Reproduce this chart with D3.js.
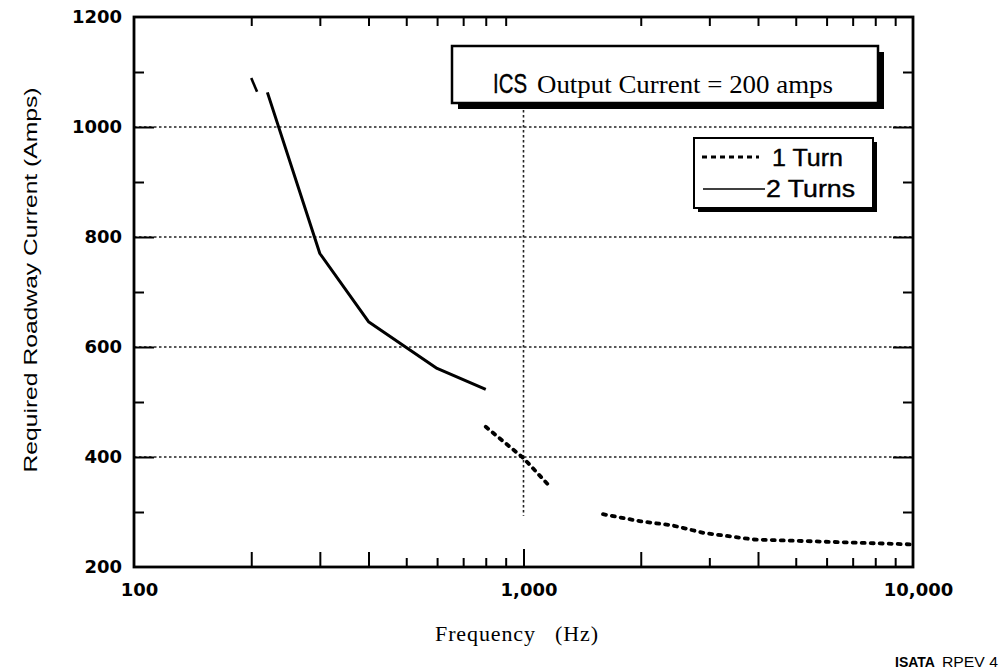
<!DOCTYPE html>
<html>
<head>
<meta charset="utf-8">
<script src="https://cdn.jsdelivr.net/npm/d3@7"></script>
<style>
  body { margin: 0; background: #fff; }
  svg { display: block; }
</style>
</head>
<body>
<div id="chart"></div>
<script>
// values
var turns2Freq = [220, 300, 400, 600, 800];
var turns2Amps = [1063, 770, 646, 561, 523];
var turns2StubFreq = [200, 207];
var turns2StubAmps = [1089, 1064];

var turn1FreqA = [800, 1000, 1170];
var turn1AmpsA = [455, 398, 346];
var turn1FreqB = [1600, 2000, 2400, 2900, 3900, 10000];
var turn1AmpsB = [296, 283, 276, 262, 250, 241];

var yLabels = [200, 400, 600, 800, 1000, 1200];
var yMajor = [400, 600, 800, 1000];
var yMinor = [300, 500, 700, 900, 1100];
var xLabels = [100, 1000, 10000];
var xLong = [200, 300, 400, 2000, 4000];
var xShort = [500, 600, 700, 800, 900, 3000, 5000, 6000, 7000, 8000, 9000];
var xTop = [200, 300, 400, 500, 600, 700, 800, 900, 2000, 3000, 4000, 5000, 6000, 7000, 8000, 9000];
var gridAmps = [400, 600, 800, 1000];

function init(){

    var w = 1001;
    var h = 672;

    var svg = d3.select("#chart")
        .append("svg")
        .attr("width", w)
        .attr("height", h);

    var x = d3.scaleLog().domain([100, 10000]).range([134, 913]);
    var y = d3.scaleLinear().domain([200, 1200]).range([567, 17]);

    function pairs(fs, as){
        return fs.map(function(f, i){ return [f, as[i]]; });
    }

    var line = d3.line()
        .x(function(d){ return x(d[0]); })
        .y(function(d){ return y(d[1]); });

    // grid
    svg.selectAll("line.hgrid")
        .data(gridAmps)
        .enter()
        .append("line")
        .attr("class", "hgrid")
        .attr("x1", x(100))
        .attr("x2", x(10000))
        .attr("y1", function(d){ return y(d); })
        .attr("y2", function(d){ return y(d); })
        .attr("stroke", "#222")
        .attr("stroke-width", 1.5)
        .attr("stroke-dasharray", "2.5,2.5");

    svg.append("line")
        .attr("x1", x(1000))
        .attr("x2", x(1000))
        .attr("y1", y(1140))
        .attr("y2", y(293))
        .attr("stroke", "#222")
        .attr("stroke-width", 1.6)
        .attr("stroke-dasharray", "2.5,2.5");

    // ticks
    function tickAxis(axis, vals, size, tx, ty){
        var g = svg.append("g")
            .attr("transform", "translate(" + tx + "," + ty + ")")
            .call(axis.tickValues(vals).tickSize(size).tickSizeOuter(0).tickFormat(""));
        g.select(".domain").remove();
        g.selectAll("line").attr("stroke", "#000").attr("stroke-width", 2);
        return g;
    }

    tickAxis(d3.axisBottom(x), xLong, -15, 0, 567);
    tickAxis(d3.axisBottom(x), xShort, -9, 0, 567);
    tickAxis(d3.axisBottom(x), [1000], -18, 0, 567);
    tickAxis(d3.axisTop(x), xTop, -9, 0, 17);
    tickAxis(d3.axisLeft(y), yMajor, -20, 134, 0);
    tickAxis(d3.axisLeft(y), yMinor, -10, 134, 0);
    tickAxis(d3.axisRight(y), yMajor, -20, 913, 0);
    tickAxis(d3.axisRight(y), yMinor, -10, 913, 0);

    // frame
    svg.append("rect")
        .attr("x", x(100))
        .attr("y", y(1200))
        .attr("width", x(10000) - x(100))
        .attr("height", y(200) - y(1200))
        .attr("fill", "none")
        .attr("stroke", "#000")
        .attr("stroke-width", 2.8);

    // tick labels
    var yl = svg.append("g")
        .attr("transform", "translate(122,0)")
        .call(d3.axisLeft(y).tickValues(yLabels).tickSize(0).tickPadding(0)
            .tickFormat(d3.format("d")));
    yl.select(".domain").remove();
    yl.selectAll("text")
        .attr("font-family", "DejaVu Sans")
        .attr("font-weight", "bold")
        .attr("font-size", 18)
        .attr("fill", "#000");

    var xl = svg.append("g")
        .attr("transform", "translate(5,583)")
        .call(d3.axisBottom(x).tickValues(xLabels).tickSize(0).tickPadding(0)
            .tickFormat(d3.format(",")));
    xl.select(".domain").remove();
    xl.selectAll("text")
        .attr("font-family", "DejaVu Sans")
        .attr("font-weight", "bold")
        .attr("font-size", 18)
        .attr("fill", "#000");

    // series
    svg.append("path")
        .datum(pairs(turns2StubFreq, turns2StubAmps))
        .attr("d", line)
        .attr("fill", "none")
        .attr("stroke", "#000")
        .attr("stroke-width", 2.6);

    svg.append("path")
        .datum(pairs(turns2Freq, turns2Amps))
        .attr("d", line)
        .attr("fill", "none")
        .attr("stroke", "#000")
        .attr("stroke-width", 3)
        .attr("stroke-linejoin", "round");

    [pairs(turn1FreqA, turn1AmpsA), pairs(turn1FreqB, turn1AmpsB)].forEach(function(seg){
        svg.append("path")
            .datum(seg)
            .attr("d", line)
            .attr("fill", "none")
            .attr("stroke", "#000")
            .attr("stroke-width", 3.8)
            .attr("stroke-linecap", "round")
            .attr("stroke-dasharray", "3,6");
    });

    // title box
    svg.append("rect")
        .attr("x", 458).attr("y", 52)
        .attr("width", 426).attr("height", 57)
        .attr("fill", "#000");
    svg.append("rect")
        .attr("x", 452).attr("y", 46)
        .attr("width", 426).attr("height", 57)
        .attr("fill", "#fff")
        .attr("stroke", "#000")
        .attr("stroke-width", 2.5);

    svg.append("text")
        .attr("x", 493).attr("y", 93)
        .attr("font-family", "Liberation Sans")
        .attr("font-size", 28)
        .attr("stroke", "#000")
        .attr("stroke-width", 0.4)
        .attr("textLength", 34)
        .attr("lengthAdjust", "spacingAndGlyphs")
        .text("ICS");
    svg.append("text")
        .attr("x", 537).attr("y", 93)
        .attr("font-family", "Liberation Serif")
        .attr("font-size", 26)
        .attr("textLength", 296)
        .attr("lengthAdjust", "spacingAndGlyphs")
        .text("Output Current = 200 amps");

    // legend box
    svg.append("rect")
        .attr("x", 698).attr("y", 142)
        .attr("width", 179).attr("height", 70)
        .attr("fill", "#000");
    svg.append("rect")
        .attr("x", 694).attr("y", 138)
        .attr("width", 179).attr("height", 70)
        .attr("fill", "#fff")
        .attr("stroke", "#000")
        .attr("stroke-width", 2);

    svg.append("line")
        .attr("x1", 702).attr("x2", 759)
        .attr("y1", 157).attr("y2", 157)
        .attr("stroke", "#000")
        .attr("stroke-width", 3)
        .attr("stroke-dasharray", "5,4");
    svg.append("line")
        .attr("x1", 703).attr("x2", 765)
        .attr("y1", 189).attr("y2", 189)
        .attr("stroke", "#000")
        .attr("stroke-width", 1.6);

    svg.append("text")
        .attr("x", 772).attr("y", 166)
        .attr("font-family", "Liberation Sans")
        .attr("font-size", 24)
        .attr("stroke", "#000")
        .attr("stroke-width", 0.4)
        .attr("textLength", 71)
        .attr("lengthAdjust", "spacingAndGlyphs")
        .text("1 Turn");
    svg.append("text")
        .attr("x", 766).attr("y", 197)
        .attr("font-family", "Liberation Sans")
        .attr("font-size", 24)
        .attr("stroke", "#000")
        .attr("stroke-width", 0.4)
        .attr("textLength", 89)
        .attr("lengthAdjust", "spacingAndGlyphs")
        .text("2 Turns");

    // axis titles
    svg.append("text")
        .attr("transform", "translate(37,280) rotate(-90)")
        .attr("text-anchor", "middle")
        .attr("font-family", "Liberation Sans")
        .attr("font-size", 18)
        .attr("textLength", 385)
        .attr("lengthAdjust", "spacingAndGlyphs")
        .text("Required Roadway Current (Amps)");

    svg.append("text")
        .attr("x", 435).attr("y", 641)
        .attr("font-family", "Liberation Serif")
        .attr("font-size", 22)
        .attr("textLength", 163)
        .attr("lengthAdjust", "spacing")
        .style("white-space", "pre")
        .text("Frequency   (Hz)");

    // footer
    svg.append("text")
        .attr("x", 895).attr("y", 667)
        .attr("font-family", "Liberation Sans")
        .attr("font-weight", "bold")
        .attr("font-size", 14)
        .text("ISATA");
    svg.append("text")
        .attr("x", 942).attr("y", 667)
        .attr("font-family", "Liberation Sans")
        .attr("font-size", 14)
        .attr("textLength", 56)
        .attr("lengthAdjust", "spacingAndGlyphs")
        .text("RPEV 4");
}
window.onload = init;
</script>
</body>
</html>
